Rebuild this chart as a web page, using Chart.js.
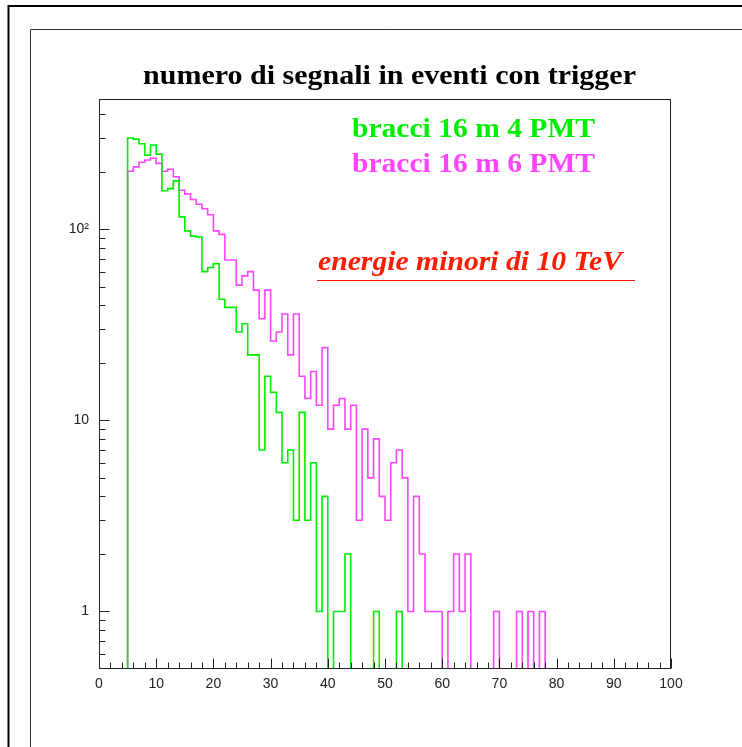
<!DOCTYPE html>
<html>
<head>
<meta charset="utf-8">
<title>numero di segnali in eventi con trigger</title>
<script src="https://cdn.jsdelivr.net/npm/chart.js@4.4.1/dist/chart.umd.min.js"></script>
<style>
    html, body { margin: 0; padding: 0; background: #fff; }
    #chart_segnali { display: block; }
</style>
</head>
<body>
<canvas id="chart_segnali" width="742" height="747"></canvas>
<script>
// Lower edge of the first filled bin, bins are 1 unit wide
var primoBin = 5;

// bracci 16 m 4 PMT - counts per bin, starting at bin 5
var conteggi4PMT = [300, 296, 280, 244, 276, 247, 159, 163, 179, 116,
                    98, 92, 91, 60, 63, 66, 43, 39, 39, 29,
                    32, 22, 22, 7, 17, 14, 11, 6, 7, 3,
                    11, 3, 6, 1, 4, 0, 1, 1, 2, 0,
                    0, 0, 0, 1, 0, 0, 0, 1];

// bracci 16 m 6 PMT - counts per bin, starting at bin 5
var conteggi6PMT = [201, 212, 224, 230, 235, 221, 201, 206, 188, 160,
                    153, 143, 135, 128, 119, 98, 94, 69, 69, 51,
                    57, 60, 48, 34, 48, 26, 29, 36, 22, 36,
                    17, 13, 18, 12, 24, 9, 12, 13, 9, 12,
                    3, 9, 5, 8, 4, 3, 6, 7, 5, 1,
                    4, 2, 1, 1, 1, 0, 1, 2, 1, 2,
                    0, 0, 0, 0, 1, 0, 0, 0, 1, 0,
                    1, 0, 1];

// Axis labels
var xTickValues = [0, 10, 20, 30, 40, 50, 60, 70, 80, 90, 100];
var yTickValues = [1, 10, 100];
var yTickLabels = ['1', '10', '10\u00b2'];

// Texts
var titolo = 'numero di segnali in eventi con trigger';
var etichetta4PMT = 'bracci 16 m 4 PMT';
var etichetta6PMT = 'bracci 16 m 6 PMT';
var nota = 'energie minori di 10 TeV';

(function () {
    var VERDE = '#00ee00';
    var MAGENTA = '#ff44ff';
    var ROSSO = '#ff1a00';
    var yMin = 0.5, yMax = 480;
    // empty bins go below the frame and get clipped (log axis has no 0)
    var fondo = 0.05;

    /**
     * Turn bin counts into step points (x = lower bin edge)
     */
    function puntiIstogramma(counts) {
        var pts = [{x: primoBin, y: fondo}];
        for (var i = 0; i < counts.length; i++) {
            pts.push({x: primoBin + i, y: counts[i] > 0 ? counts[i] : fondo});
        }
        pts.push({x: primoBin + counts.length, y: fondo});
        return pts;
    }

    /**
     * Draw a text stretched horizontally to a given width
     */
    function testoLargo(ctx, testo, x, y, larghezza) {
        var w = ctx.measureText(testo).width;
        ctx.save();
        ctx.translate(x, y);
        ctx.scale(larghezza / w, 1);
        ctx.fillText(testo, 0, 0);
        ctx.restore();
    }

    function linea(ctx, x1, y1, x2, y2) {
        ctx.beginPath();
        ctx.moveTo(x1, y1);
        ctx.lineTo(x2, y2);
        ctx.stroke();
    }

    // Frames, inner ticks, title and annotations
    var decorazioni = {
        id: 'decorazioni',
        beforeDraw: function (chart) {
            var ctx = chart.ctx;
            ctx.save();
            ctx.fillStyle = '#fff';
            ctx.fillRect(0, 0, chart.width, chart.height);
            ctx.restore();
        },
        afterDraw: function (chart) {
            var ctx = chart.ctx;
            var area = chart.chartArea;
            var sx = chart.scales.x, sy = chart.scales.y;
            ctx.save();

            // page frames
            ctx.strokeStyle = '#000';
            ctx.lineWidth = 2;
            ctx.beginPath();
            ctx.moveTo(8.5, 760); ctx.lineTo(8.5, 6); ctx.lineTo(760, 6);
            ctx.stroke();
            ctx.strokeStyle = '#333';
            ctx.lineWidth = 1;
            ctx.beginPath();
            ctx.moveTo(30.5, 760); ctx.lineTo(30.5, 29.5); ctx.lineTo(760, 29.5);
            ctx.stroke();

            // plot frame
            var l = Math.round(area.left) + 0.5, r = Math.round(area.right) - 0.5;
            var t = Math.round(area.top) + 0.5, b = Math.round(area.bottom) - 0.5;
            ctx.strokeStyle = '#222';
            ctx.strokeRect(l, t, r - l, b - t);

            // x ticks, pointing inside
            for (var v = 0; v <= 100; v += 2) {
                var px = Math.round(sx.getPixelForValue(v)) + 0.5;
                linea(ctx, px, b, px, b - (v % 10 === 0 ? 10 : 6));
            }
            // y ticks, log decades
            [0.1, 1, 10, 100].forEach(function (dec) {
                for (var m = 1; m <= 9; m++) {
                    var val = m * dec;
                    if (val <= yMin || val >= yMax) continue;
                    var py = Math.round(sy.getPixelForValue(val)) + 0.5;
                    linea(ctx, l, py, l + (m === 1 ? 10 : 6), py);
                }
            });

            // title
            ctx.fillStyle = '#000';
            ctx.font = 'bold 28px "Liberation Serif"';
            testoLargo(ctx, titolo, 143, 84, 493);

            // legend texts
            ctx.fillStyle = VERDE;
            testoLargo(ctx, etichetta4PMT, 352, 137, 243);
            ctx.fillStyle = MAGENTA;
            testoLargo(ctx, etichetta6PMT, 352, 172, 243);

            // note with underline
            ctx.fillStyle = ROSSO;
            ctx.font = 'italic bold 28px "Liberation Serif"';
            testoLargo(ctx, nota, 318, 270, 304);
            ctx.strokeStyle = ROSSO;
            linea(ctx, 317, 280.5, 635, 280.5);

            ctx.restore();
        }
    };

    var ctx = document.getElementById('chart_segnali').getContext('2d');
    new Chart(ctx, {
        type: 'line',
        data: {
            datasets: [{
                label: etichetta4PMT,
                data: puntiIstogramma(conteggi4PMT),
                borderColor: VERDE,
                borderWidth: 1.6,
                stepped: 'before',
                pointRadius: 0,
                fill: false,
                clip: 0
            }, {
                label: etichetta6PMT,
                data: puntiIstogramma(conteggi6PMT),
                borderColor: MAGENTA,
                borderWidth: 1.6,
                stepped: 'before',
                pointRadius: 0,
                fill: false,
                clip: 0
            }]
        },
        options: {
            responsive: false,
            animation: false,
            devicePixelRatio: 1,
            layout: {padding: {left: 0, top: 99, right: 71, bottom: 0}},
            plugins: {
                legend: {display: false},
                title: {display: false},
                tooltip: {enabled: false}
            },
            scales: {
                x: {
                    type: 'linear',
                    min: 0,
                    max: 100,
                    afterFit: function (s) { s.height = 78; },
                    afterBuildTicks: function (s) {
                        s.ticks = xTickValues.map(function (v) { return {value: v}; });
                    },
                    grid: {display: false, drawTicks: false},
                    border: {display: false},
                    ticks: {
                        padding: 7,
                        autoSkip: false,
                        maxRotation: 0,
                        color: '#222',
                        font: {family: '"Liberation Sans"', size: 14}
                    }
                },
                y: {
                    type: 'logarithmic',
                    min: yMin,
                    max: yMax,
                    afterFit: function (s) { s.width = 99; },
                    afterBuildTicks: function (s) {
                        s.ticks = yTickValues.map(function (v) { return {value: v}; });
                    },
                    grid: {display: false, drawTicks: false},
                    border: {display: false},
                    ticks: {
                        padding: 10,
                        color: '#222',
                        font: {family: '"Liberation Sans"', size: 14},
                        callback: function (value) {
                            var i = yTickValues.indexOf(value);
                            return i >= 0 ? yTickLabels[i] : '';
                        }
                    }
                }
            }
        },
        plugins: [decorazioni]
    });
})();
</script>
</body>
</html>
